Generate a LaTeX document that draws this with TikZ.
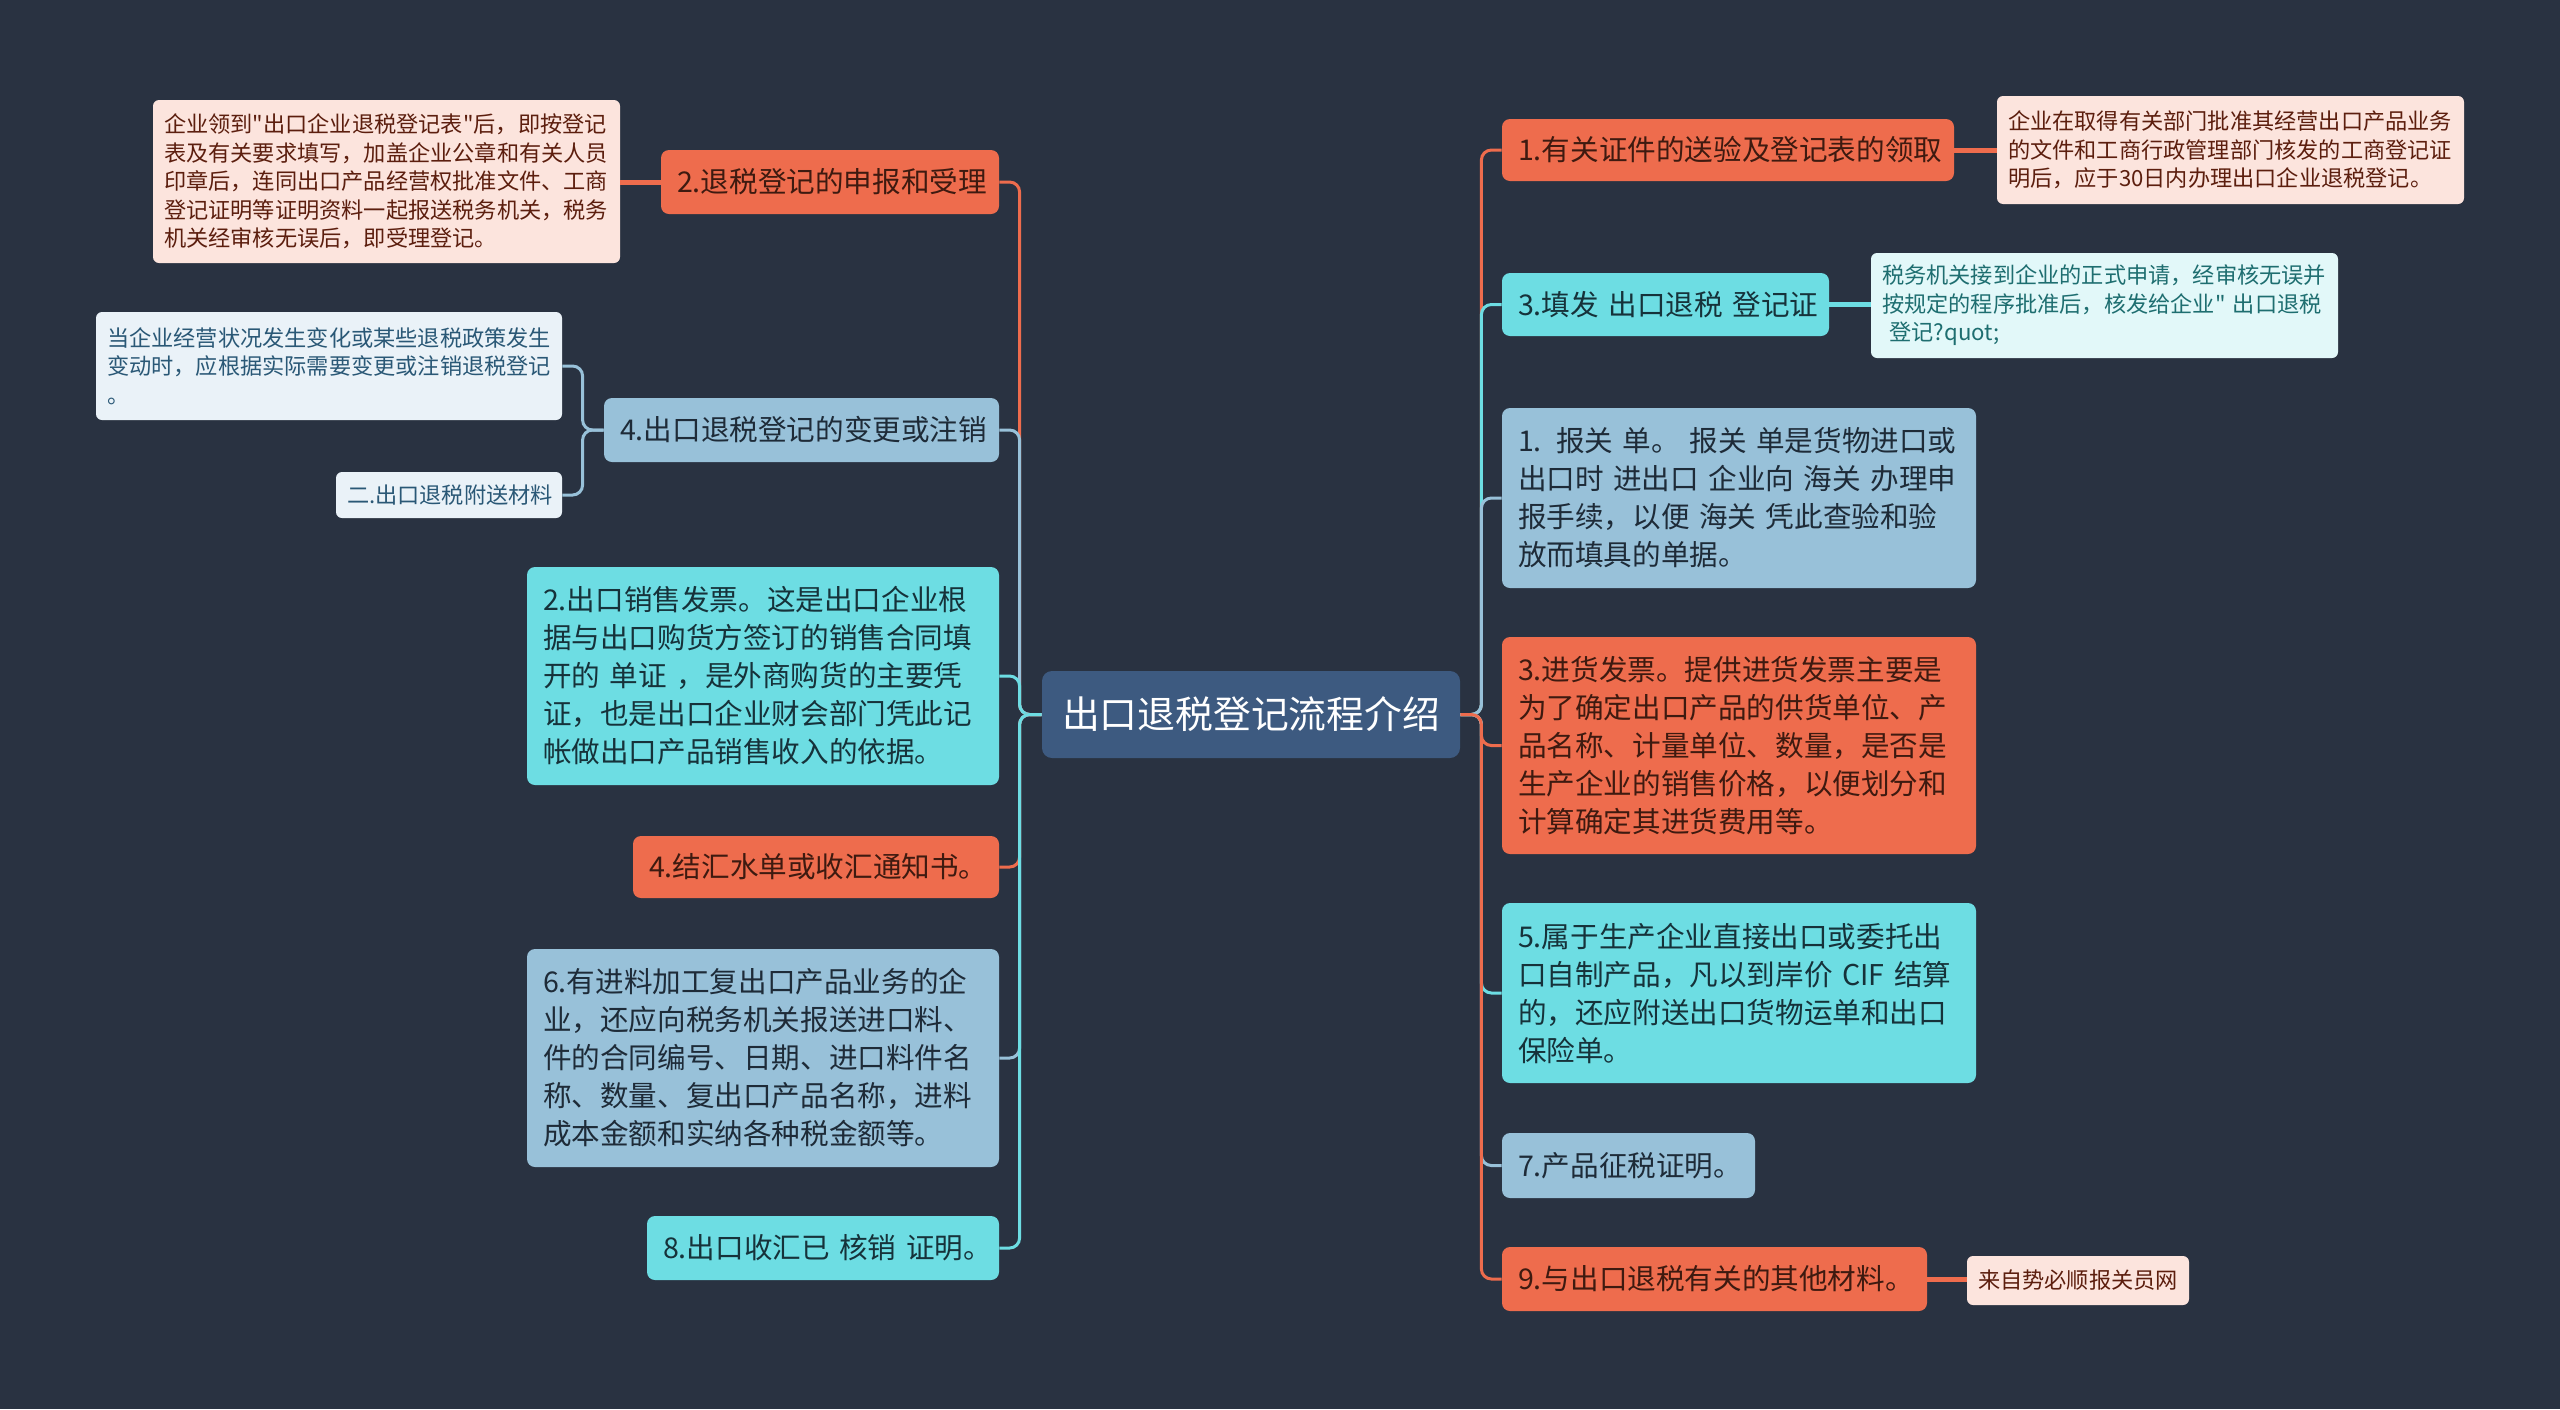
\documentclass[tikz,border=0pt]{standalone}
\usepackage{fontspec}
\newfontfamily\cjk{Noto Sans CJK SC}
\definecolor{bg}{HTML}{293241}
\definecolor{rootfill}{HTML}{3D5A80}
\definecolor{corange}{HTML}{EE6C4D}
\definecolor{ccyan}{HTML}{6DDDE3}
\definecolor{cblue}{HTML}{98C1D9}
\definecolor{otext}{HTML}{3E1A10}
\definecolor{ctext}{HTML}{16323A}
\definecolor{btext}{HTML}{1E2B38}
\definecolor{pinkfill}{HTML}{FCE4DD}
\definecolor{pinktext}{HTML}{5C1E0E}
\definecolor{pbluefill}{HTML}{EAF2F8}
\definecolor{pbluetext}{HTML}{2A5876}
\definecolor{pcyanfill}{HTML}{E2F8F9}
\definecolor{pcyantext}{HTML}{1E6E70}
\begin{document}
\begin{tikzpicture}[x={(0.5pt,0)},y={(0,-0.5pt)},
  mainbox/.style={rounded corners=4pt, inner xsep=8pt, inner ysep=0pt, align=left,
    font=\cjk\fontsize{14.3pt}{19pt}\selectfont},
  obox/.style={mainbox, fill=corange, text=otext},
  cbox/.style={mainbox, fill=ccyan, text=ctext},
  bbox/.style={mainbox, fill=cblue, text=btext},
  childbox/.style={rounded corners=3pt, inner xsep=5.5pt, inner ysep=0pt, align=left,
    font=\cjk\fontsize{11.1pt}{14.3pt}\selectfont},
  pinkbox/.style={childbox, fill=pinkfill, text=pinktext},
  pbluebox/.style={childbox, fill=pbluefill, text=pbluetext},
  pcyanbox/.style={childbox, fill=pcyanfill, text=pcyantext},
  conn/.style={draw=#1, line width=1.5pt, rounded corners=5pt},
  cconn/.style={draw=#1, line width=2.5pt}
]
\fill[bg] (0,0) rectangle (2560,1409);
\useasboundingbox (0,0) rectangle (2560,1409);

% root
\node[fill=rootfill, text=white, rounded corners=5pt, inner sep=0pt,
  minimum width=209pt, minimum height=43.5pt, align=center,
  font=\cjk\fontsize{18.9pt}{22pt}\selectfont] (root) at (1251,714.5) {出口退税登记流程介绍};

% left branches
\node[obox, text width=153pt, minimum height=32pt] (a1) at (830,182) {2.退税登记的申报和受理};
\node[bbox, text width=181.5pt, minimum height=32pt] (a2) at (801.5,430) {4.出口退税登记的变更或注销};
\node[cbox, text width=220pt, minimum height=109pt] (a3) at (763,676) {2.出口销售发票。这是出口企业根\\据与出口购货方签订的销售合同填\\开的 单证 ，是外商购货的主要凭\\证，也是出口企业财会部门凭此记\\帐做出口产品销售收入的依据。};
\node[obox, text width=167pt, minimum height=31pt] (a4) at (816,867) {4.结汇水单或收汇通知书。};
\node[bbox, text width=220pt, minimum height=109pt] (a5) at (763,1058) {6.有进料加工复出口产品业务的企\\业，还应向税务机关报送进口料、\\件的合同编号、日期、进口料件名\\称、数量、复出口产品名称，进料\\成本金额和实纳各种税金额等。};
\node[cbox, text width=160pt, minimum height=32pt] (a6) at (823,1248) {8.出口收汇已~核销~证明。};

% left children
\node[pinkbox, text width=222.5pt, minimum height=81.5pt] (a1c) at (386.5,181.5) {企业领到"出口企业退税登记表"后，即按登记\\表及有关要求填写，加盖企业公章和有关人员\\印章后，连同出口产品经营权批准文件、工商\\登记证明等证明资料一起报送税务机关，税务\\机关经审核无误后，即受理登记。};
\node[pbluebox, text width=222pt, minimum height=54pt] (a2c1) at (329,366) {当企业经营状况发生变化或某些退税政策发生\\变动时，应根据实际需要变更或注销退税登记\\。};
\node[pbluebox, text width=102pt, minimum height=23pt] (a2c2) at (449,495) {二.出口退税附送材料};

% right branches
\node[obox, text width=210pt, minimum height=31pt] (b1) at (1728,150) {1.有关证件的送验及登记表的领取};
\node[cbox, text width=147.5pt, minimum height=31.5pt] (b2) at (1665.5,304.5) {3.填发~出口退税~登记证};
\node[bbox, text width=221pt, minimum height=90pt] (b3) at (1739,498) {1. 报关 单。 报关 单是货物进口或\\出口时 进出口 企业向 海关 办理申\\报手续，以便 海关 凭此查验和验\\放而填具的单据。};
\node[obox, text width=221pt, minimum height=108.5pt] (b4) at (1739,745.5) {3.进货发票。提供进货发票主要是\\为了确定出口产品的供货单位、产\\品名称、计量单位、数量，是否是\\生产企业的销售价格，以便划分和\\计算确定其进货费用等。};
\node[cbox, text width=221pt, minimum height=90pt] (b5) at (1739,993) {5.属于生产企业直接出口或委托出\\口自制产品，凡以到岸价 CIF 结算\\的，还应附送出口货物运单和出口\\保险单。};
\node[bbox, text width=110.5pt, minimum height=32.5pt] (b6) at (1628.5,1165.5) {7.产品征税证明。};
\node[obox, text width=196.5pt, minimum height=32pt] (b7) at (1714.5,1279) {9.与出口退税有关的其他材料。};

% right children
\node[pinkbox, text width=222.5pt, minimum height=54pt] (b1c) at (2230.5,150) {企业在取得有关部门批准其经营出口产品业务\\的文件和工商行政管理部门核发的工商登记证\\明后，应于30日内办理出口企业退税登记。};
\node[pcyanbox, text width=222.5pt, minimum height=52.5pt] (b2c) at (2104.5,305.5) {税务机关接到企业的正式申请，经审核无误并\\按规定的程序批准后，核发给企业" 出口退税\\\ 登记?quot;};
\node[pinkbox, text width=100pt, minimum height=24.5pt] (b7c) at (2078,1280.5) {来自势必顺报关员网};

% connectors root -> left branches
\draw[conn=corange] (root.west) -- ++(-22,0) |- (a1.east);
\draw[conn=cblue] (root.west) -- ++(-22,0) |- (a2.east);
\draw[conn=ccyan] (root.west) -- ++(-22,0) |- (a3.east);
\draw[conn=corange] (root.west) -- ++(-22,0) |- (a4.east);
\draw[conn=cblue] (root.west) -- ++(-22,0) |- (a5.east);
\draw[conn=ccyan] (root.west) -- ++(-22,0) |- (a6.east);

% connectors root -> right branches
\draw[conn=corange] (root.east) -- ++(21,0) |- (b1.west);
\draw[conn=ccyan] (root.east) -- ++(21,0) |- (b2.west);
\draw[conn=cblue] (root.east) -- ++(21,0) |- (b3.west);
\draw[conn=corange] (root.east) -- ++(21,0) |- (b4.west);
\draw[conn=ccyan] (root.east) -- ++(21,0) |- (b5.west);
\draw[conn=cblue] (root.east) -- ++(21,0) |- (b6.west);
\draw[conn=corange] (root.east) -- ++(21,0) |- (b7.west);

% child connectors
\draw[cconn=corange] (a1.west) -- (a1c.east |- a1.west);
\draw[conn=cblue] (a2.west) -- ++(-21,0) |- (a2c1.east);
\draw[conn=cblue] (a2.west) -- ++(-21,0) |- (a2c2.east);
\draw[cconn=corange] (b1.east) -- (b1c.west |- b1.east);
\draw[cconn=ccyan] (b2.east) -- (b2c.west |- b2.east);
\draw[cconn=corange] (b7.east) -- (b7c.west |- b7.east);
\end{tikzpicture}
\end{document}
